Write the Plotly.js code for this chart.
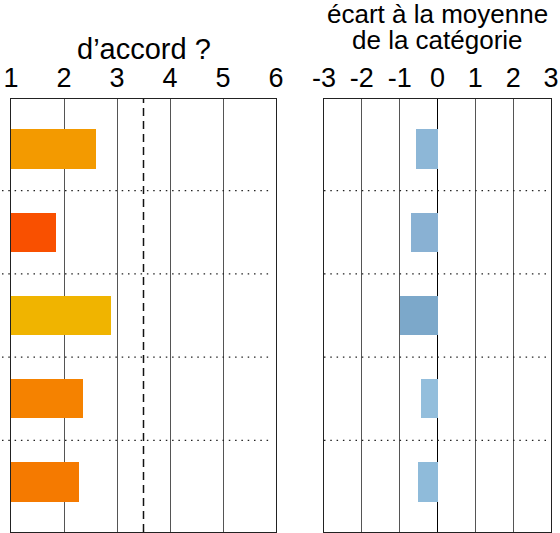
<!DOCTYPE html>
<html>
<head>
<meta charset="utf-8">
<script src="https://cdn.plot.ly/plotly-3.0.1.min.js"></script>
<style>html,body{margin:0;padding:0;background:#fff;}#chart{width:560px;height:533px;}</style>
</head>
<body>
<div id="chart"></div>
<script>
// Data
var rows = [0, 1, 2, 3, 4];
var agreement = [2.60, 1.85, 2.89, 2.36, 2.28];
var agreementColors = ['#F39A00', '#F95000', '#F0B400', '#F58200', '#F57A00'];
var deviation = [-0.57, -0.71, -0.98, -0.44, -0.52];
var deviationColors = ['#8DB7D7', '#89B1D3', '#7CA8CA', '#93BEDC', '#8FBBDA'];
var leftTicks = [1, 2, 3, 4, 5, 6];
var rightTicks = [-3, -2, -1, 0, 1, 2, 3];
var refLine = 3.5;
var leftTitle = 'd’accord ?';
var rightTitle1 = 'écart à la moyenne';
var rightTitle2 = 'de la catégorie';

var FONT = 'Liberation Sans, Arial, Helvetica, sans-serif';

var traces = [
  {
    type: 'bar', orientation: 'h',
    y: rows, x: agreement.map(function(v){ return v - 1; }), base: 1,
    width: 0.47,
    marker: {color: agreementColors, line: {width: 0}},
    xaxis: 'x', yaxis: 'y', hoverinfo: 'none'
  },
  {
    type: 'bar', orientation: 'h',
    y: rows, x: deviation,
    width: 0.47,
    marker: {color: deviationColors, line: {width: 0}},
    xaxis: 'x2', yaxis: 'y2', hoverinfo: 'none'
  }
];

var shapes = [];
for (var i = 0; i < rows.length - 1; i++) {
  var yb = (rows[i] + rows[i + 1]) / 2;
  shapes.push({type: 'line', xref: 'paper', yref: 'y', x0: 2/560, x1: 272/560, y0: yb, y1: yb,
    line: {color: '#222', width: 1.2, dash: '1.5px,4.8px'}});
  shapes.push({type: 'line', xref: 'paper', yref: 'y', x0: 324/560, x1: 550/560, y0: yb, y1: yb,
    line: {color: '#222', width: 1.2, dash: '1.5px,4.8px'}});
}
shapes.push({type: 'line', xref: 'x', yref: 'y domain', x0: refLine, x1: refLine, y0: 0, y1: 1,
  line: {color: '#111', width: 1.5, dash: '8px,5px'}});

var yRange = [rows[rows.length - 1] + 0.6, rows[0] - 0.6];

var layout = {
  width: 560, height: 533,
  margin: {l: 0, r: 0, t: 99, b: 1},
  paper_bgcolor: '#fff', plot_bgcolor: '#fff',
  showlegend: false,
  font: {family: FONT, color: '#000', size: 27},
  xaxis: {
    domain: [11/560, 276/560], range: [1, 6], side: 'top',
    tickvals: leftTicks, ticktext: leftTicks.map(String),
    showgrid: true, gridcolor: '#555', gridwidth: 1,
    zeroline: false, showline: true, mirror: true, linecolor: '#222', linewidth: 1,
    ticks: '', tickfont: {size: 27, family: FONT, color: '#000'},
    fixedrange: true, anchor: 'y'
  },
  yaxis: {
    domain: [0, 1], range: yRange, showticklabels: false, showgrid: false, zeroline: false,
    showline: true, mirror: true, linecolor: '#222', linewidth: 1, ticks: '', anchor: 'x'
  },
  xaxis2: {
    domain: [324/560, 551/560], range: [-3, 3], side: 'top',
    tickvals: rightTicks, ticktext: rightTicks.map(String),
    showgrid: true, gridcolor: '#555', gridwidth: 1,
    zeroline: true, zerolinecolor: '#000', zerolinewidth: 1,
    showline: true, mirror: true, linecolor: '#222', linewidth: 1,
    ticks: '', tickfont: {size: 27, family: FONT, color: '#000'},
    fixedrange: true, anchor: 'y2'
  },
  yaxis2: {
    domain: [0, 1], range: yRange, showticklabels: false, showgrid: false, zeroline: false,
    showline: true, mirror: true, linecolor: '#222', linewidth: 1, ticks: '', anchor: 'x2'
  },
  shapes: shapes,
  bargap: 0
};

var pH = 533 - 99 - 1;
function py(p) { return (533 - 1 - p) / pH; }
layout.annotations = [
  {text: leftTitle, xref: 'paper', yref: 'paper', x: 143.5/560, y: py(59), xanchor: 'center', yanchor: 'bottom', yshift: -8,
   showarrow: false, font: {size: 29, family: FONT, color: '#000'}},
  {text: rightTitle1, xref: 'paper', yref: 'paper', x: 437.5/560, y: py(24), xanchor: 'center', yanchor: 'bottom', yshift: -7,
   showarrow: false, font: {size: 26, family: FONT, color: '#000'}},
  {text: rightTitle2, xref: 'paper', yref: 'paper', x: 437.5/560, y: py(50), xanchor: 'center', yanchor: 'bottom', yshift: -7,
   showarrow: false, font: {size: 26, family: FONT, color: '#000'}}
];

Plotly.newPlot('chart', traces, layout, {displayModeBar: false, staticPlot: true});
</script>
</body>
</html>
